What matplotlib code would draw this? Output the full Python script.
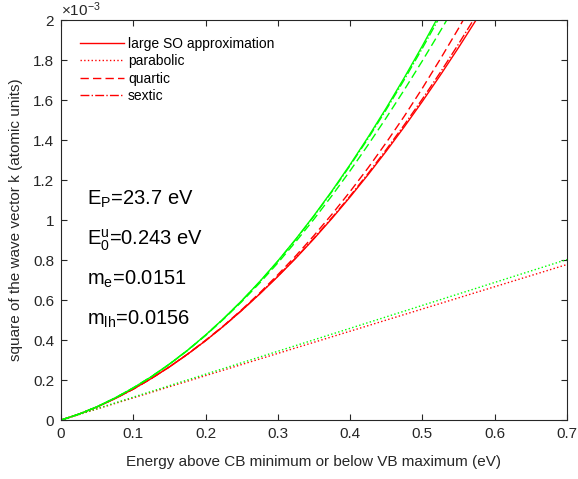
import matplotlib
matplotlib.use("Agg")
import matplotlib.pyplot as plt
import matplotlib.ticker as ticker

plt.rcParams.update({
    "font.family": "Liberation Sans",
    "font.size": 11,
    "mathtext.fontset": "custom",
    "mathtext.rm": "Liberation Sans",
    "mathtext.it": "Liberation Sans:italic",
    "axes.linewidth": 0.8,
    "axes.edgecolor": "#262626",
    "xtick.color": "#262626",
    "ytick.color": "#262626",
})

# energy (eV) and k^2 (units of 1e-3 a.u.)
E_red = [0.0, 0.025, 0.05, 0.075, 0.1, 0.125, 0.15, 0.175, 0.2, 0.225, 0.25, 0.275,
         0.3, 0.325, 0.35, 0.375, 0.4, 0.425, 0.45, 0.475, 0.5, 0.525, 0.55, 0.575, 0.6]
red_large_so = [0, 0.030, 0.066, 0.108, 0.155, 0.208, 0.266, 0.329, 0.397, 0.470, 0.548, 0.631,
                0.718, 0.810, 0.907, 1.009, 1.116, 1.228, 1.345, 1.467, 1.594, 1.726, 1.863, 2.005, 2.152]
red_quartic = [0, 0.030, 0.066, 0.108, 0.155, 0.208, 0.266, 0.330, 0.399, 0.472, 0.552, 0.636,
               0.727, 0.822, 0.923, 1.030, 1.143, 1.262, 1.388, 1.520, 1.660, 1.807, 1.959, 2.120, 2.288]
red_sextic = [0, 0.030, 0.066, 0.108, 0.155, 0.208, 0.266, 0.329, 0.397, 0.470, 0.549, 0.632,
              0.720, 0.812, 0.910, 1.013, 1.121, 1.234, 1.353, 1.477, 1.606, 1.740, 1.881, 2.027, 2.178]

E_green = [0.0, 0.025, 0.05, 0.075, 0.1, 0.125, 0.15, 0.175, 0.2, 0.225, 0.25, 0.275,
           0.3, 0.325, 0.35, 0.375, 0.4, 0.425, 0.45, 0.475, 0.5, 0.525, 0.55]
green_large_so = [0, 0.030, 0.067, 0.111, 0.161, 0.217, 0.280, 0.349, 0.425, 0.508, 0.597, 0.693,
                  0.796, 0.906, 1.023, 1.147, 1.278, 1.416, 1.561, 1.713, 1.872, 2.038, 2.211]
green_quartic = [0, 0.030, 0.067, 0.111, 0.161, 0.217, 0.279, 0.348, 0.423, 0.505, 0.592, 0.686,
                 0.786, 0.893, 1.005, 1.123, 1.247, 1.377, 1.512, 1.652, 1.797, 1.947, 2.101]
green_sextic = [0, 0.030, 0.067, 0.111, 0.161, 0.217, 0.280, 0.349, 0.425, 0.507, 0.596, 0.692,
                0.794, 0.904, 1.020, 1.143, 1.273, 1.409, 1.553, 1.703, 1.860, 2.023, 2.193]

E_par = [0.0, 0.7]
red_parabolic = [0, 0.778]
green_parabolic = [0, 0.803]

labels = ["large SO approximation", "parabolic", "quartic", "sextic"]
params = [r"E$_\mathrm{P}$=23.7 eV", r"E$_0^\mathrm{u}$=0.243 eV",
          r"m$_\mathrm{e}$=0.0151", r"m$_\mathrm{lh}$=0.0156"]

fig = plt.figure(figsize=(5.78, 4.79), dpi=100)
ax = fig.add_axes([0.1055, 0.123, 0.8755, 0.835])

red = "#ff0000"
green = "#00ff00"
lw = 1.0
dash = (0, (6, 3))

ax.plot(E_red, red_large_so, color=red, lw=lw, ls="-", label=labels[0])
ax.plot(E_par, red_parabolic, color=red, lw=lw, ls=":", label=labels[1])
ax.plot(E_red, red_quartic, color=red, lw=lw, ls=dash, label=labels[2])
ax.plot(E_red, red_sextic, color=red, lw=lw, ls="-.", label=labels[3])

ax.plot(E_green, green_large_so, color=green, lw=lw, ls="-")
ax.plot(E_par, green_parabolic, color=green, lw=lw, ls=":")
ax.plot(E_green, green_quartic, color=green, lw=lw, ls=dash)
ax.plot(E_green, green_sextic, color=green, lw=lw, ls="-.")

ax.set_xlim(0, 0.7)
ax.set_ylim(0, 2)
ax.xaxis.set_major_locator(ticker.MultipleLocator(0.1))
ax.yaxis.set_major_locator(ticker.MultipleLocator(0.2))
ax.xaxis.set_major_formatter(ticker.FormatStrFormatter("%g"))
ax.yaxis.set_major_formatter(ticker.FormatStrFormatter("%g"))
ax.tick_params(direction="in", top=True, right=True, length=4, labelsize=11, pad=5)

ax.set_xlabel("Energy above CB minimum or below VB maximum (eV)", fontsize=11,
              color="#262626", labelpad=10)
ax.set_ylabel("square of the wave vector k (atomic units)", fontsize=11,
              color="#262626", labelpad=7)
ax.text(0.0, 1.003, r"$\times$10$^{-3}$", transform=ax.transAxes, fontsize=11,
        color="#262626", ha="left", va="bottom")

ax.legend(loc="upper left", frameon=False, fontsize=10, handlelength=3.2,
          handletextpad=0.3, labelspacing=0.25, bbox_to_anchor=(0.012, 0.99))

for txt, yy in zip(params, [1.075, 0.875, 0.675, 0.475]):
    ax.text(0.036, yy, txt, fontsize=14.5, ha="left", va="baseline", color="black")

fig.savefig("out.png", dpi=100)
